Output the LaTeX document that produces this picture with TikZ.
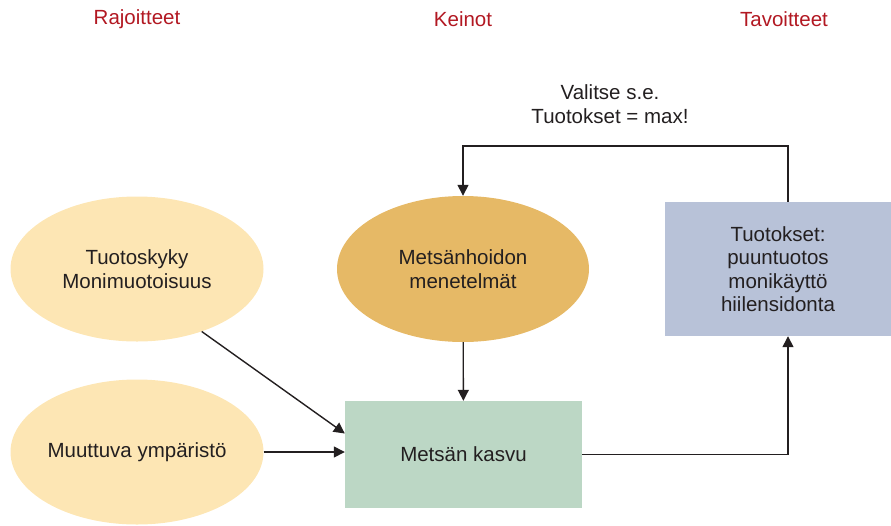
\documentclass[tikz,border=0pt]{standalone}
\usepackage{fontspec}
\setmainfont{Liberation Sans}
\usetikzlibrary{
    positioning,                      % right=of, below=of
    arrows.meta,                      % Triangle-kärjet
    shapes.geometric                  % ellipse
}
\definecolor{otsikkopuna}{RGB}{178,24,34}
\definecolor{rajoite}{RGB}{253,230,180}
\definecolor{keino}{RGB}{230,185,102}
\definecolor{kasvu}{RGB}{188,215,197}
\definecolor{tavoite}{RGB}{184,194,216}
\definecolor{viiva}{RGB}{35,31,32}

\begin{document}
\begin{tikzpicture}[
      x=1pt, y=-1pt,
      font=\fontsize{20.5}{23.5}\selectfont,
      >={Triangle[length=11pt,width=11pt]},
      otsikko/.style={text=otsikkopuna},
      raj/.style ={ellipse, fill=rajoite, inner sep=0pt, minimum width=253pt, minimum height=145pt, align=center, text=viiva},
      kei/.style ={ellipse, fill=keino, inner sep=0pt, minimum width=252pt, minimum height=146pt, align=center, text=viiva},
      kas/.style ={rectangle, fill=kasvu, minimum width=237pt, minimum height=107pt, align=center, text=viiva},
      tav/.style ={rectangle, fill=tavoite, minimum width=226pt, minimum height=134pt, align=center, text=viiva},
      nuoli/.style={->, line width=1.4pt, draw=viiva}
    ]
    \useasboundingbox (0,0) rectangle (891,525);

    % --- Sarakeotsikot ---
    \node[otsikko] (h_raj) at (137, 19) {Rajoitteet};
    \node[otsikko] (h_kei) at (463, 19) {Keinot};
    \node[otsikko] (h_tav) at (784, 19) {Tavoitteet};

    % --- Rajoitteet (vasen sarake) ---
    \node[raj] (tuotoskyky) at (137, 269) {Tuotoskyky\\Monimuotoisuus};
    \node[raj] (ymparisto)  at (137, 452) {Muuttuva ympäristö};

    % --- Keinot (keskisarake) ---
    \node[kei] (hoito) at (463, 269) {Metsänhoidon\\menetelmät};
    \node[kas] (kasvu) at (463.5, 454.5) {Metsän kasvu};

    % --- Tavoitteet (oikea sarake) ---
    \node[tav] (tuotokset) at (778, 269) {Tuotokset:\\puuntuotos\\monikäyttö\\hiilensidonta};

    % --- Palautesilmukan teksti ---
    \node[align=center, text=viiva] (valitse) at (610, 104) {Valitse s.e.\\Tuotokset = max!};
    \coordinate (yla) at (0, 146);

    % ================= NUOLET =================
    \draw[nuoli] (tuotoskyky.-44) -- ([yshift=21pt]kasvu.west);
    \draw[nuoli] (ymparisto.east) -- (ymparisto.east -| kasvu.west);
    \draw[nuoli] (hoito) -- (kasvu);
    \draw[nuoli] (kasvu.east) -| ([xshift=10pt]tuotokset.south);

    % --- Palaute: tuotokset -> menetelmät ---
    \draw[nuoli] ([xshift=10pt]tuotokset.north) |- (hoito.north |- yla) -- (hoito.north);

  \end{tikzpicture}
\end{document}
